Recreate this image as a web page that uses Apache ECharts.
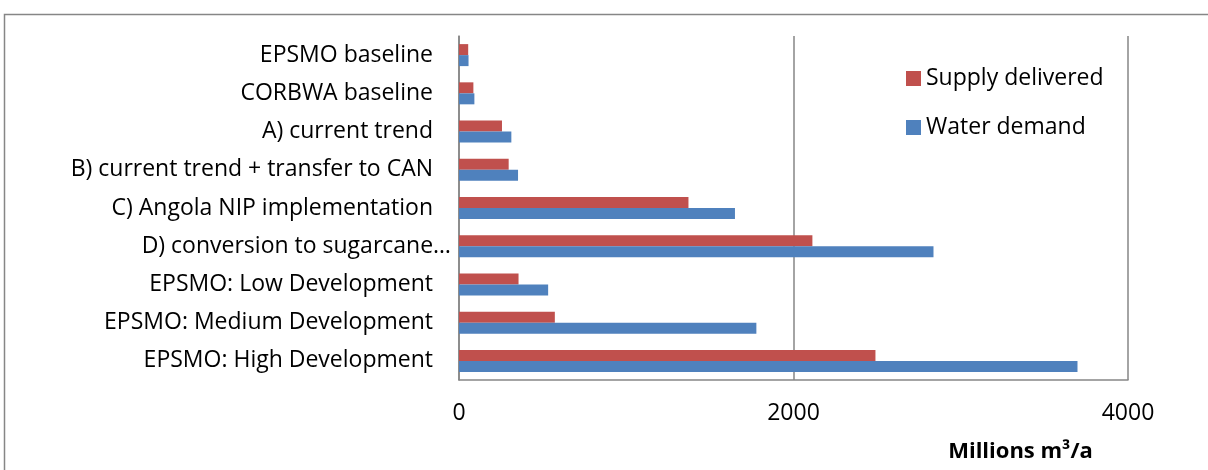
<!DOCTYPE html>
<html>
<head>
<meta charset="utf-8">
<script src="https://cdn.jsdelivr.net/npm/echarts@6/dist/echarts.min.js"></script>
<style>
  html, body { margin: 0; padding: 0; background: #fff; }
  #chart { width: 1208px; height: 470px; }
</style>
</head>
<body>
<div id="chart"></div>
<script>
// Scenario names, listed top to bottom
const categories = [
  'EPSMO baseline',
  'CORBWA baseline',
  'A) current trend',
  'B) current trend + transfer to CAN',
  'C) Angola NIP implementation',
  'D) conversion to sugarcane…',
  'EPSMO: Low Development',
  'EPSMO: Medium Development',
  'EPSMO: High Development'
];

// Millions m³/a
const supplyDelivered = [55, 86, 257, 297, 1372, 2113, 356, 573, 2490];
const waterDemand     = [57, 92, 313, 353, 1650, 2837, 533, 1778, 3698];

const xTicks = { min: 0, max: 4000, interval: 2000 };

const FONT = '"Open Sans", Lato, sans-serif';
const GRAY = '#868686';
const LABEL_SIZE = 23;

const chart = echarts.init(document.getElementById('chart'));
chart.setOption({
  backgroundColor: '#fff',
  animation: false,
  textStyle: { fontFamily: FONT, color: '#000' },
  graphic: [{
    type: 'rect',
    shape: { x: 4.5, y: 14.5, width: 1230, height: 480 },
    style: { fill: 'none', stroke: GRAY, lineWidth: 1.5 },
    silent: true,
    z: -1
  }],
  grid: { left: 459, right: 80, top: 36, bottom: 90, containLabel: false },
  legend: {
    orient: 'vertical',
    left: 901,
    top: 62,
    icon: 'rect',
    itemWidth: 15,
    itemHeight: 15,
    itemGap: 26,
    textStyle: { fontFamily: FONT, fontSize: LABEL_SIZE, color: '#000' },
    data: ['Supply delivered', 'Water demand']
  },
  xAxis: {
    type: 'value',
    min: xTicks.min,
    max: xTicks.max,
    interval: xTicks.interval,
    axisLine: { show: true, lineStyle: { color: GRAY, width: 1.5 } },
    axisTick: { show: false },
    splitLine: { show: true, lineStyle: { color: GRAY, width: 1.5 } },
    axisLabel: {
      fontFamily: FONT, fontSize: LABEL_SIZE, color: '#000', margin: 22,
      formatter: function (v) { return String(v); }
    },
    name: 'Millions m³/a',
    nameLocation: 'middle',
    nameGap: 61,
    nameTextStyle: {
      fontFamily: FONT, fontSize: 22, fontWeight: 'bold', color: '#000',
      padding: [0, 0, 0, 454]
    }
  },
  yAxis: {
    type: 'category',
    inverse: true,
    data: categories,
    axisLine: { show: true, lineStyle: { color: GRAY, width: 1.5 } },
    axisTick: { show: false },
    axisLabel: {
      margin: 8,
      formatter: function (v) {
        return v.endsWith('…') ? '{d|' + v + '}' : '{n|' + v + '}';
      },
      rich: {
        n: { fontFamily: FONT, fontSize: LABEL_SIZE, color: '#000', padding: [0, 18, 0, 0] },
        d: { fontFamily: FONT, fontSize: LABEL_SIZE, color: '#000' }
      }
    }
  },
  series: [
    {
      name: 'Supply delivered',
      type: 'bar',
      data: supplyDelivered,
      barWidth: 11,
      barGap: '0%',
      itemStyle: { color: '#C0504D' }
    },
    {
      name: 'Water demand',
      type: 'bar',
      data: waterDemand,
      barWidth: 11,
      barGap: '0%',
      itemStyle: { color: '#4F81BD' }
    }
  ]
});
</script>
</body>
</html>
